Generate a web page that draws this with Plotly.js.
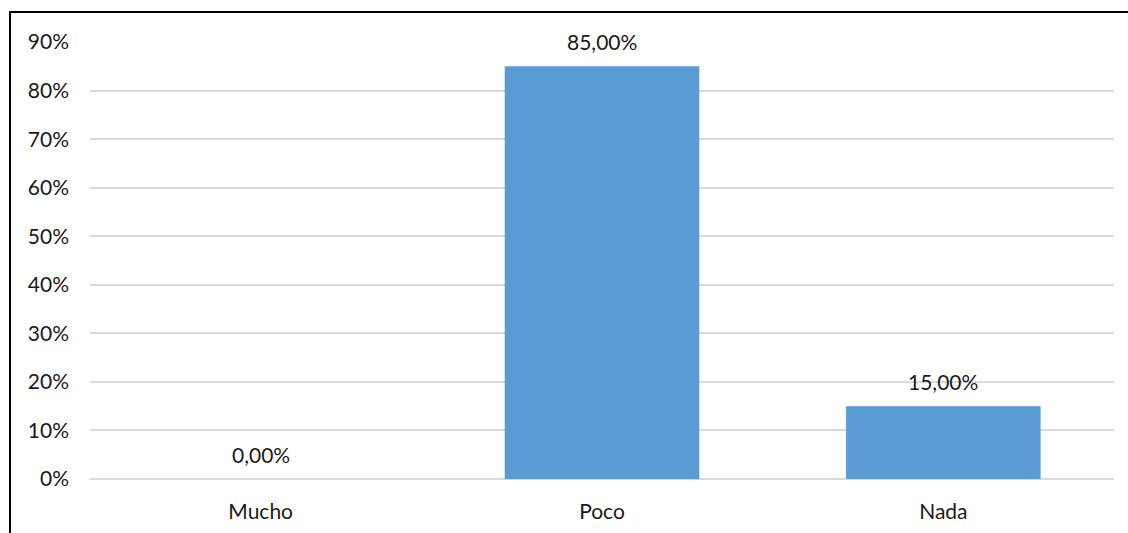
<!DOCTYPE html>
<html>
<head>
<meta charset="utf-8">
<script src="https://cdn.plot.ly/plotly-3.0.1.min.js"></script>
<style>
  html, body { margin: 0; padding: 0; width: 1128px; height: 533px; overflow: hidden; background: #fff; }
  #chart { position: absolute; left: 0; top: 0; width: 1128px; height: 533px; }
  #frame { position: absolute; left: 9px; top: 11px; width: 1300px; height: 700px;
           border-top: 2px solid #000; border-left: 2px solid #000; pointer-events: none; }
</style>
</head>
<body>
<div id="chart"></div>
<div id="frame"></div>
<script>
const categories = ["Mucho", "Poco", "Nada"];
const values = [0.00, 0.85, 0.15];
const yTickValues = [0, 0.1, 0.2, 0.3, 0.4, 0.5, 0.6, 0.7, 0.8, 0.9];

const fontFamily = "Lato, 'Open Sans', sans-serif";
const fmt = v => (v * 100).toFixed(2).replace('.', ',') + '%';

const trace = {
  type: 'bar',
  x: categories,
  y: values,
  marker: { color: '#5B9BD5' },
  hoverinfo: 'none'
};

const annotations = categories.map((c, i) => ({
  x: c, y: values[i], xref: 'x', yref: 'y',
  text: fmt(values[i]),
  showarrow: false,
  yanchor: 'bottom',
  yshift: 10,
  font: { family: fontFamily, size: 21, color: '#1a1a1a' }
}));

const layout = {
  width: 1128, height: 533,
  margin: { l: 90, r: 14, t: 42, b: 54 },
  paper_bgcolor: 'rgba(0,0,0,0)',
  plot_bgcolor: 'rgba(0,0,0,0)',
  bargap: 0.43,
  showlegend: false,
  font: { family: fontFamily, size: 21, color: '#1a1a1a' },
  xaxis: {
    type: 'category',
    showgrid: false,
    showline: false,
    zeroline: false,
    ticks: '',
    ticklabelstandoff: 18,
    tickfont: { family: fontFamily, size: 21, color: '#1a1a1a' }
  },
  yaxis: {
    range: [0, 0.9001],
    tickvals: yTickValues,
    tickformat: '.0%',
    showgrid: true,
    gridcolor: '#D9D9D9',
    gridwidth: 2,
    zeroline: true,
    zerolinecolor: '#D9D9D9',
    zerolinewidth: 2,
    showline: false,
    ticks: '',
    ticklabelstandoff: 20,
    tickfont: { family: fontFamily, size: 21, color: '#1a1a1a' }
  },
  annotations: annotations
};

Plotly.newPlot('chart', [trace], layout, { displayModeBar: false, staticPlot: true });
</script>
</body>
</html>
